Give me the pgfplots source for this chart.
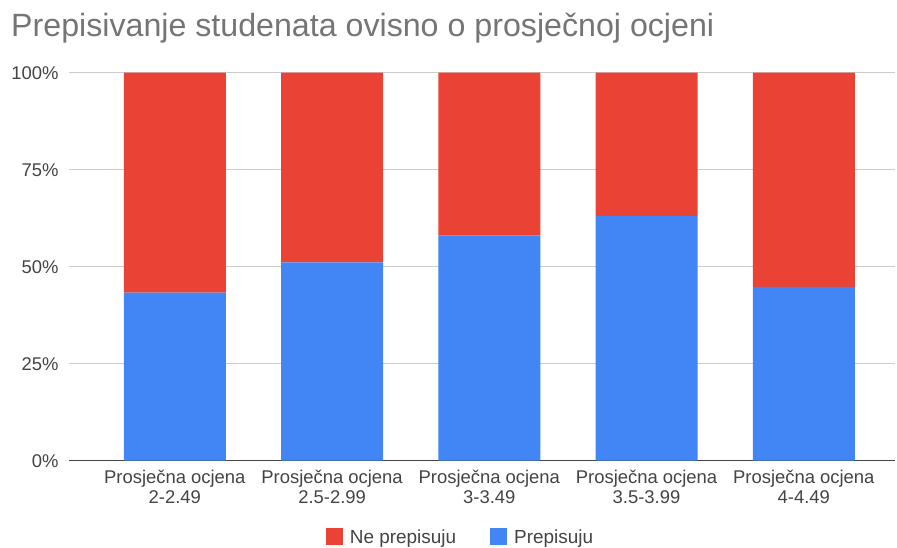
\documentclass[border=0pt]{standalone}
\usepackage{pgfplots}
\pgfplotsset{compat=1.18}
\usepackage{fontspec}
\setmainfont{Liberation Sans}

\definecolor{nered}{HTML}{EA4335}
\definecolor{pblue}{HTML}{4285F4}
\definecolor{titlegray}{HTML}{757575}
\definecolor{ticktext}{HTML}{444444}
\definecolor{gridgray}{HTML}{CCCCCC}

\begin{document}
\begin{tikzpicture}
\path[use as bounding box] (-69bp,-87.3bp) rectangle (828bp,460.7bp);
\begin{axis}[
    at={(0,0)}, anchor=south west,
    scale only axis,
    width=826bp, height=388bp,
    ybar stacked,
    bar width=0.648,
    xmin=-0.673, xmax=4.58,
    ymin=0, ymax=100,
    xtick={0,1,2,3,4},
    xticklabels={Prosječna ocjena\\2-2.49, Prosječna ocjena\\2.5-2.99, Prosječna ocjena\\3-3.49, Prosječna ocjena\\3.5-3.99, Prosječna ocjena\\4-4.49},
    xticklabel style={align=center, font=\fontsize{18.5}{20}\selectfont, text=ticktext, yshift=-6bp},
    ytick={0,25,50,75,100},
    yticklabels={0\%,25\%,50\%,75\%,100\%},
    yticklabel style={font=\fontsize{18.5}{20}\selectfont, text=ticktext, xshift=-7bp},
    major tick length=0pt,
    ymajorgrids,
    grid style={gridgray, line width=0.8pt},
    axis x line*=bottom,
    axis y line*=left,
    y axis line style={draw=none},
    x axis line style={draw=ticktext, line width=1.2pt, -},
    legend style={at={(0.474,-0.197)}, anchor=center, draw=none,
        legend columns=2, font=\fontsize{19}{20}\selectfont, text=ticktext,
        /tikz/every odd column/.append style={column sep=5bp},
        /tikz/every even column/.append style={column sep=32bp}},
    reverse legend,
    legend image code/.code={\fill (0bp,-8bp) rectangle (17bp,9bp);},
]
\addplot[fill=pblue, draw=none] coordinates {
    (0,43.3) (1,51.1) (2,58.1) (3,63.1) (4,44.8)
};
\addlegendentry{Prepisuju}
\addplot[fill=nered, draw=none] coordinates {
    (0,56.7) (1,48.9) (2,41.9) (3,36.9) (4,55.2)
};
\addlegendentry{Ne prepisuju}
\end{axis}
\node[anchor=base west, text=titlegray, font=\fontsize{32.3}{34}\selectfont, inner sep=0pt] at (-58bp,424bp) {Prepisivanje studenata ovisno o prosječnoj ocjeni};
\end{tikzpicture}
\end{document}
